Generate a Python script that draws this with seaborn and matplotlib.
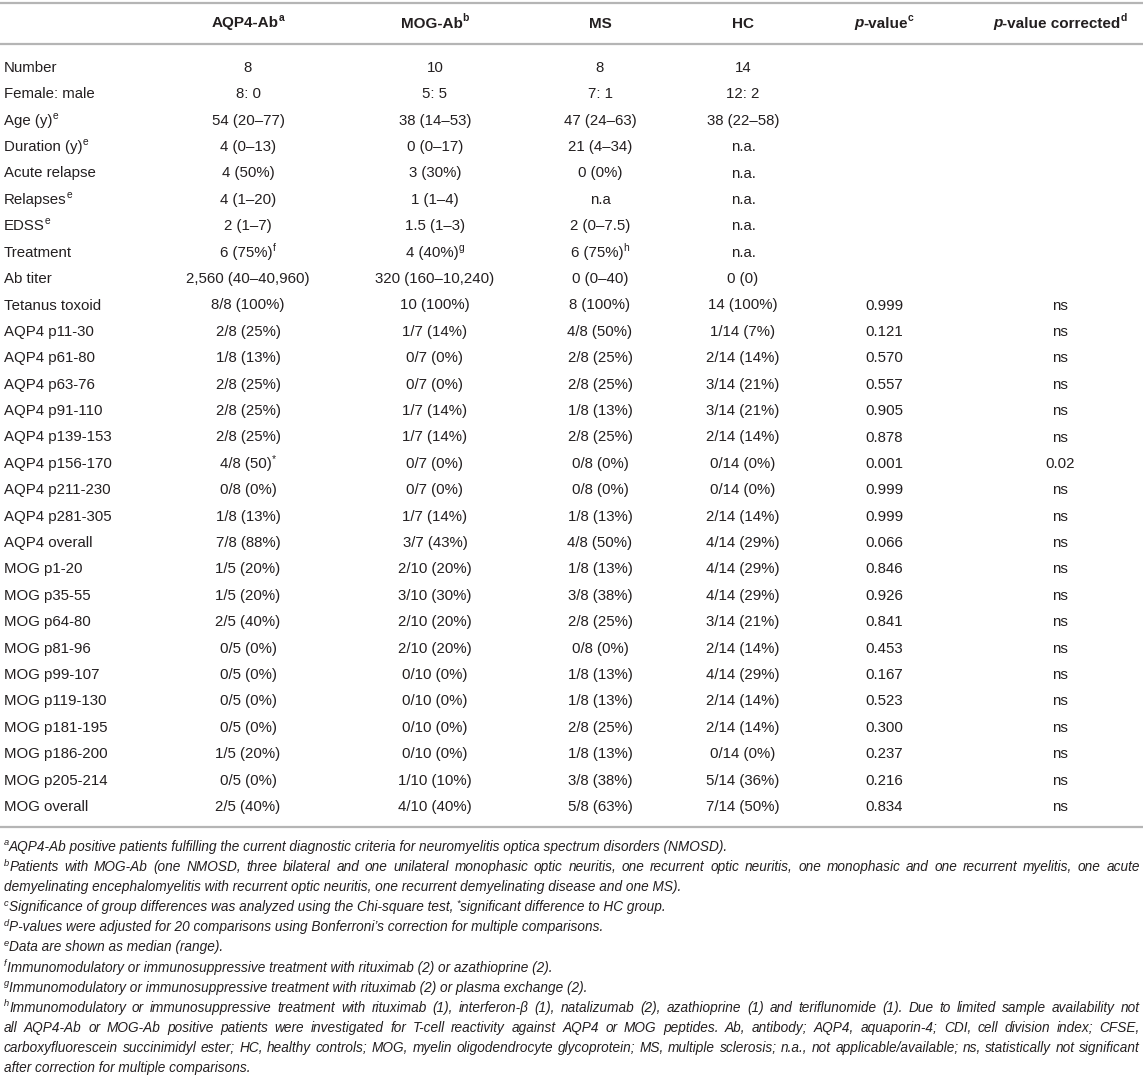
import re
import matplotlib
matplotlib.use("Agg")
import matplotlib.pyplot as plt
import seaborn as sns

# =========================
# TABLE DATA
# =========================
row_labels = [
    "Number", "Female: male", "Age (y)^e", "Duration (y)^e", "Acute relapse",
    "Relapses^e", "EDSS^e", "Treatment", "Ab titer", "Tetanus toxoid",
    "AQP4 p11-30", "AQP4 p61-80", "AQP4 p63-76", "AQP4 p91-110", "AQP4 p139-153",
    "AQP4 p156-170", "AQP4 p211-230", "AQP4 p281-305", "AQP4 overall",
    "MOG p1-20", "MOG p35-55", "MOG p64-80", "MOG p81-96", "MOG p99-107",
    "MOG p119-130", "MOG p181-195", "MOG p186-200", "MOG p205-214", "MOG overall",
]
aqp4_ab = [
    "8", "8: 0", "54 (20–77)", "4 (0–13)", "4 (50%)", "4 (1–20)", "2 (1–7)",
    "6 (75%)^f", "2,560 (40–40,960)", "8/8 (100%)",
    "2/8 (25%)", "1/8 (13%)", "2/8 (25%)", "2/8 (25%)", "2/8 (25%)",
    "4/8 (50)^*", "0/8 (0%)", "1/8 (13%)", "7/8 (88%)",
    "1/5 (20%)", "1/5 (20%)", "2/5 (40%)", "0/5 (0%)", "0/5 (0%)",
    "0/5 (0%)", "0/5 (0%)", "1/5 (20%)", "0/5 (0%)", "2/5 (40%)",
]
mog_ab = [
    "10", "5: 5", "38 (14–53)", "0 (0–17)", "3 (30%)", "1 (1–4)", "1.5 (1–3)",
    "4 (40%)^g", "320 (160–10,240)", "10 (100%)",
    "1/7 (14%)", "0/7 (0%)", "0/7 (0%)", "1/7 (14%)", "1/7 (14%)",
    "0/7 (0%)", "0/7 (0%)", "1/7 (14%)", "3/7 (43%)",
    "2/10 (20%)", "3/10 (30%)", "2/10 (20%)", "2/10 (20%)", "0/10 (0%)",
    "0/10 (0%)", "0/10 (0%)", "0/10 (0%)", "1/10 (10%)", "4/10 (40%)",
]
ms = [
    "8", "7: 1", "47 (24–63)", "21 (4–34)", "0 (0%)", "n.a", "2 (0–7.5)",
    "6 (75%)^h", "0 (0–40)", "8 (100%)",
    "4/8 (50%)", "2/8 (25%)", "2/8 (25%)", "1/8 (13%)", "2/8 (25%)",
    "0/8 (0%)", "0/8 (0%)", "1/8 (13%)", "4/8 (50%)",
    "1/8 (13%)", "3/8 (38%)", "2/8 (25%)", "0/8 (0%)", "1/8 (13%)",
    "1/8 (13%)", "2/8 (25%)", "1/8 (13%)", "3/8 (38%)", "5/8 (63%)",
]
hc = [
    "14", "12: 2", "38 (22–58)", "n.a.", "n.a.", "n.a.", "n.a.",
    "n.a.", "0 (0)", "14 (100%)",
    "1/14 (7%)", "2/14 (14%)", "3/14 (21%)", "3/14 (21%)", "2/14 (14%)",
    "0/14 (0%)", "0/14 (0%)", "2/14 (14%)", "4/14 (29%)",
    "4/14 (29%)", "4/14 (29%)", "3/14 (21%)", "2/14 (14%)", "4/14 (29%)",
    "2/14 (14%)", "2/14 (14%)", "0/14 (0%)", "5/14 (36%)", "7/14 (50%)",
]
p_value = [""] * 9 + [
    "0.999", "0.121", "0.570", "0.557", "0.905", "0.878", "0.001", "0.999",
    "0.999", "0.066", "0.846", "0.926", "0.841", "0.453", "0.167", "0.523",
    "0.300", "0.237", "0.216", "0.834",
]
p_corrected = [""] * 9 + ["ns"] * 6 + ["0.02"] + ["ns"] * 13

headers = [
    [("AQP4-Ab", "n"), ("a", "s")],
    [("MOG-Ab", "n"), ("b", "s")],
    [("MS", "n")],
    [("HC", "n")],
    [("p", "i"), ("-value", "n"), ("c", "s")],
    [("p", "i"), ("-value corrected", "n"), ("d", "s")],
]

footnotes = [
    "^aAQP4-Ab positive patients fulfilling the current diagnostic criteria for neuromyelitis optica spectrum disorders (NMOSD).",
    "^bPatients with MOG-Ab (one NMOSD, three bilateral and one unilateral monophasic optic neuritis, one recurrent optic neuritis, one monophasic and one recurrent myelitis, one acute",
    "demyelinating encephalomyelitis with recurrent optic neuritis, one recurrent demyelinating disease and one MS).",
    "^cSignificance of group differences was analyzed using the Chi-square test, ^*significant difference to HC group.",
    "^dP-values were adjusted for 20 comparisons using Bonferroni’s correction for multiple comparisons.",
    "^eData are shown as median (range).",
    "^fImmunomodulatory or immunosuppressive treatment with rituximab (2) or azathioprine (2).",
    "^gImmunomodulatory or immunosuppressive treatment with rituximab (2) or plasma exchange (2).",
    "^hImmunomodulatory or immunosuppressive treatment with rituximab (1), interferon-β (1), natalizumab (2), azathioprine (1) and teriflunomide (1). Due to limited sample availability not",
    "all AQP4-Ab or MOG-Ab positive patients were investigated for T-cell reactivity against AQP4 or MOG peptides. Ab, antibody; AQP4, aquaporin-4; CDI, cell division index; CFSE,",
    "carboxyfluorescein succinimidyl ester; HC, healthy controls; MOG, myelin oligodendrocyte glycoprotein; MS, multiple sclerosis; n.a., not applicable/available; ns, statistically not significant",
    "after correction for multiple comparisons.",
]
justified = [False, True, False, False, False, False, False, False, True, True, True, False]

# =========================
# LAYOUT
# =========================
W, H = 1143, 1077
col_x = [248, 435, 600, 743, 884, 1060]
label_x = 4
header_y = 22
row_y0, row_step = 66.5, 26.4
rules_y = [3, 44, 827]
fn_y0, fn_step = 846, 20.1
TXT = "#231f20"
RULE = "#b5b5b5"
FS = 10.8
FS_HEAD = 11.0

sns.set_theme(style="white")
plt.rcParams["font.family"] = ["Liberation Sans", "DejaVu Sans"]

fig = plt.figure(figsize=(W / 100, H / 100), dpi=100)
ax = fig.add_axes([0, 0, 1, 1])
ax.set_xlim(0, W)
ax.set_ylim(H, 0)
ax.axis("off")
renderer = fig.canvas.get_renderer()

FN_FAMILY = ["Liberation Sans Narrow", "Liberation Sans", "DejaVu Sans"]


def parse(s, base="n"):
    parts = re.split(r"\^(.)", s)
    runs = []
    for k, p in enumerate(parts):
        if k % 2 == 1:
            runs.append((p, "s"))
        elif p:
            runs.append((p, base))
    return runs


def make_text(txt, size, weight, style, family):
    return ax.text(0, 0, txt, fontsize=size, fontweight=weight, fontstyle=style,
                   family=family, color=TXT, ha="left", va="baseline")


def draw_runs(x, yc, runs, size, ha="center", weight="normal", style="normal",
              family=None, justify_to=None):
    family = family or plt.rcParams["font.family"]
    if justify_to is None:
        groups = [runs]
    else:
        # split into words; superscripts stick to the following word
        groups = [[]]
        for txt, kind in runs:
            if kind == "s":
                groups[-1].append((txt, kind))
                continue
            for k, p in enumerate(txt.split(" ")):
                if k > 0:
                    groups.append([])
                if p:
                    groups[-1].append((p, kind))
        groups = [g for g in groups if g]
    px = size * 100 / 72
    placed, widths = [], []
    for g in groups:
        gw = 0
        items = []
        for txt, kind in g:
            fs = size * 0.68 if kind == "s" else size
            st = "italic" if kind == "i" else style
            t = make_text(txt, fs, weight, st, family)
            w = t.get_window_extent(renderer).width
            items.append((t, gw, kind))
            gw += w
        placed.append(items)
        widths.append(gw)
    gap = 0
    total = sum(widths)
    if justify_to is not None and len(widths) > 1:
        gap = (justify_to - x - total) / (len(widths) - 1)
        start = x
    elif ha == "center":
        start = x - total / 2
    else:
        start = x
    base = yc + 0.36 * px
    cur = start
    for items, gw in zip(placed, widths):
        for t, off, kind in items:
            y = base - 0.40 * px if kind == "s" else base
            t.set_position((cur + off, y))
        cur += gw + gap
    return total


# rules
ax.hlines(rules_y, 0, W, colors=RULE, linewidth=1.6)

# header
for cx, runs in zip(col_x, headers):
    draw_runs(cx, header_y, runs, FS_HEAD, weight="bold")

# body
columns = [aqp4_ab, mog_ab, ms, hc, p_value, p_corrected]
for i, lab in enumerate(row_labels):
    yc = row_y0 + i * row_step
    draw_runs(label_x, yc, parse(lab), FS, ha="left")
    for cx, col in zip(col_x, columns):
        if col[i]:
            draw_runs(cx, yc, parse(col[i]), FS)

# footnotes: fit the longest line into the page width
target = W - 3
probe = 10.0
natural = []
for line in footnotes:
    plain = re.sub(r"\^(.)", r"\1", line)
    t = make_text(plain, probe, "normal", "italic", FN_FAMILY)
    natural.append(t.get_window_extent(renderer).width)
    t.remove()
fn_size = probe * (target - label_x) / max(natural) * 0.99

for i, (line, just) in enumerate(zip(footnotes, justified)):
    yc = fn_y0 + i * fn_step
    draw_runs(label_x, yc, parse(line), fn_size, ha="left", style="italic",
              family=FN_FAMILY, justify_to=target if just else None)

plt.savefig("out.png", dpi=100)
